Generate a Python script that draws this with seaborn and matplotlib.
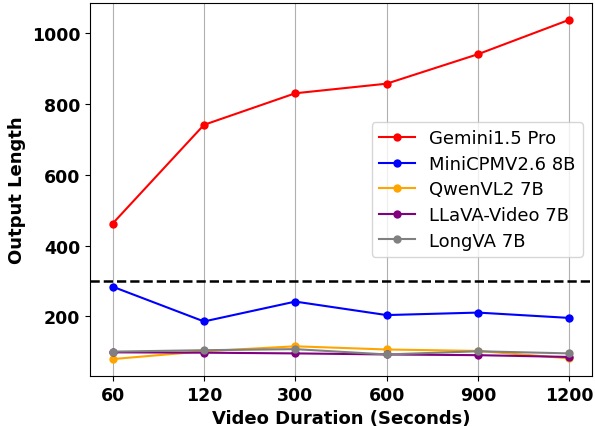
import pandas as pd
import seaborn as sns
import matplotlib.pyplot as plt

durations = ["60", "120", "300", "600", "900", "1200"]
gemini = [462, 740, 829, 856, 939, 1036]
minicpm = [284, 186, 242, 204, 211, 196]
qwen = [80, 102, 116, 107, 103, 82]
llava = [99, 98, 96, 93, 91, 86]
longva = [101, 105, 108, 93, 102, 96]
threshold = 300

models = ["Gemini1.5 Pro", "MiniCPMV2.6 8B", "QwenVL2 7B", "LLaVA-Video 7B", "LongVA 7B"]
colors = ["red", "blue", "orange", "purple", "gray"]
series = [gemini, minicpm, qwen, llava, longva]

fig = plt.figure(figsize=(5.95, 4.27), dpi=100)
ax = fig.add_axes([0.151, 0.117, 0.844, 0.874])

for name, vals, c in zip(models, series, colors):
	df = pd.DataFrame({'duration': durations, 'length': vals})
	sns.lineplot(data=df, x='duration', y='length', color=c, marker='o',
				 markersize=6, markeredgewidth=0, linewidth=1.5, label=name, ax=ax, sort=False)

ax.axhline(threshold, color='black', linestyle='--', linewidth=1.8)
ax.grid(axis='x', color='#b0b0b0', linewidth=0.8)
ax.set_axisbelow(True)

ax.set_xlabel('Video Duration (Seconds)', fontsize=13, fontweight='bold')
ax.set_ylabel('Output Length', fontsize=13, fontweight='bold')
ax.tick_params(labelsize=12.5)
for lab in ax.get_xticklabels() + ax.get_yticklabels():
	lab.set_fontweight('bold')

ax.legend(loc='center right', fontsize=13, labelspacing=0.42)

plt.savefig('out.png', dpi=100)
